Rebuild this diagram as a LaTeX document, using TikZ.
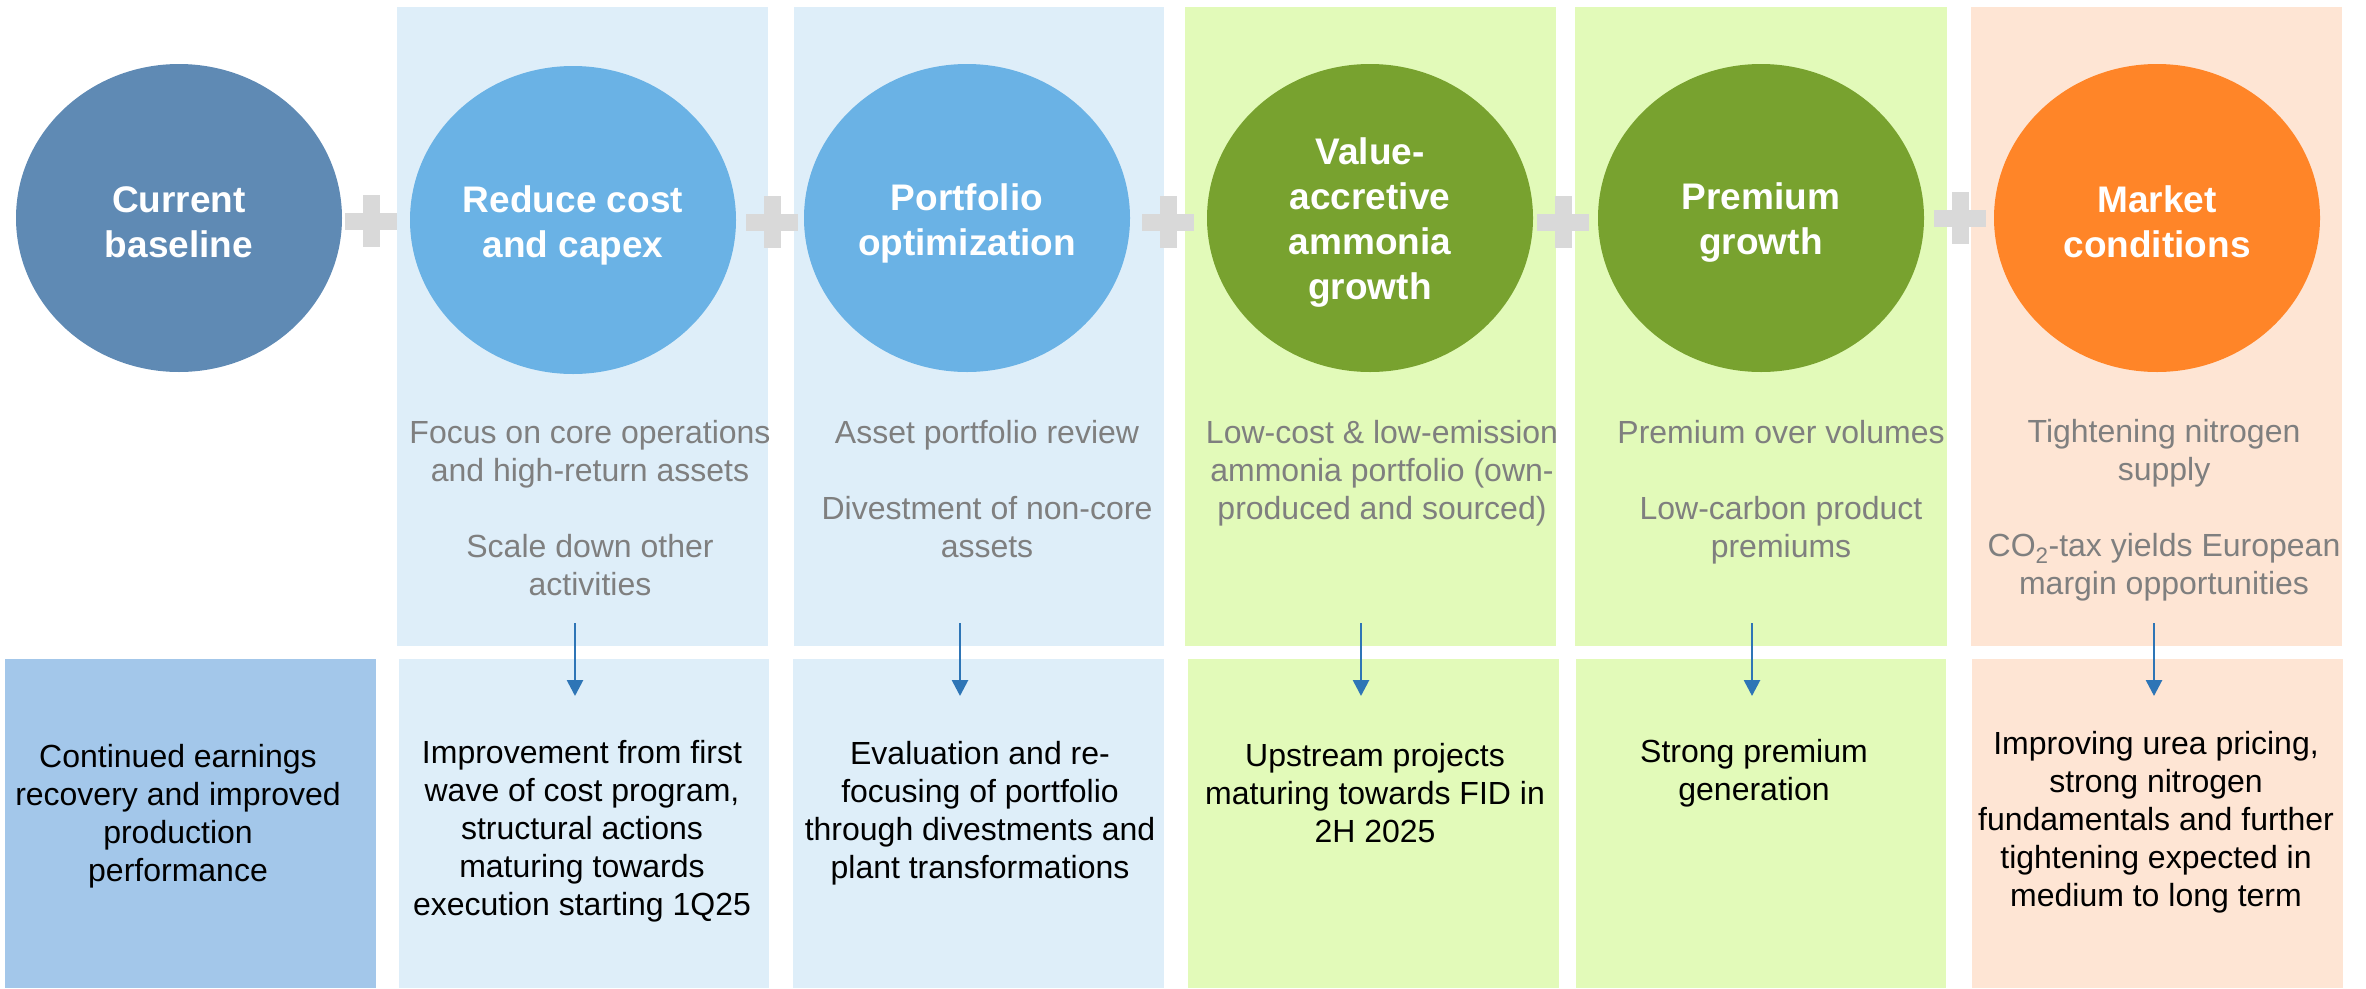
\documentclass[tikz,border=0pt]{standalone}
\usepackage{fontspec}
\setmainfont{Liberation Sans}
\usetikzlibrary{shapes.geometric,arrows.meta}
\definecolor{circA}{HTML}{5F8AB4}
\definecolor{circB}{HTML}{6AB2E5}
\definecolor{circC}{HTML}{78A22F}
\definecolor{circD}{HTML}{FF8528}
\definecolor{bgBlue}{HTML}{DEEEF9}
\definecolor{bgGreen}{HTML}{E2FAB9}
\definecolor{bgPeach}{HTML}{FEE5D4}
\definecolor{boxBlue}{HTML}{A3C7EA}
\definecolor{plusGray}{HTML}{D9D9D9}
\definecolor{arrowBlue}{HTML}{2E75B6}
\definecolor{textGray}{HTML}{7F7F7F}
\tikzset{
  bubble/.style={ellipse, minimum width=326pt, minimum height=308pt, inner sep=0pt},
  bubbletext/.style={inner sep=0pt, text=white, align=center,
    font=\fontsize{37}{45}\selectfont\bfseries},
  graytext/.style={anchor=north, inner sep=0pt, align=center, text=textGray,
    font=\fontsize{32}{38}\selectfont},
  blacktext/.style={anchor=north, inner sep=0pt, align=center, text=black,
    font=\fontsize{32}{38}\selectfont},
  flowarrow/.style={draw=arrowBlue, line width=2.7pt, -{Triangle[length=16pt,width=16pt]}},
  plusbar/.style={fill=plusGray}
}
\newcommand{\plussign}[2]{%
  \fill[plusbar] (#1-26,#2-8.5) rectangle (#1+26,#2+8.5);
  \fill[plusbar] (#1-8.5,#2-26) rectangle (#1+8.5,#2+26);}
\begin{document}
\begin{tikzpicture}[x=1pt,y=-1pt]
\useasboundingbox (0,0) rectangle (2366,988);
% column backgrounds
\fill[bgBlue]  (397,7) rectangle (768,646);
\fill[bgBlue]  (794,7) rectangle (1164,646);
\fill[bgGreen] (1185,7) rectangle (1556,646);
\fill[bgGreen] (1575,7) rectangle (1947,646);
\fill[bgPeach] (1971,7) rectangle (2342,646);
\fill[boxBlue] (5,659) rectangle (376,988);
\fill[bgBlue]  (399,659) rectangle (769,988);
\fill[bgBlue]  (793,659) rectangle (1164,988);
\fill[bgGreen] (1188,659) rectangle (1559,988);
\fill[bgGreen] (1576,659) rectangle (1946,988);
\fill[bgPeach] (1972,659) rectangle (2343,988);
% plus signs
\plussign{371}{221}
\plussign{772}{222}
\plussign{1168}{222}
\plussign{1563}{222}
\plussign{1960}{218}
% bubbles
\node[bubble, fill=circA] (c0) at (179,218) {};
\node[bubble, fill=circB] (c1) at (573,220) {};
\node[bubble, fill=circB] (c2) at (967,218) {};
\node[bubble, fill=circC] (c3) at (1370,218) {};
\node[bubble, fill=circC] (c4) at (1761,218) {};
\node[bubble, fill=circD] (c5) at (2157,218) {};
\node[bubbletext] (t0) at ([yshift=-4pt]c0.center) {Current\\baseline};
\node[bubbletext] (t1) at ([yshift=-5pt]c1.center) {Reduce cost\\and capex};
\node[bubbletext] (t2) at ([yshift=-5pt]c2.center) {Portfolio\\optimization};
\node[bubbletext] (t3) at ([yshift=-5pt]c3.center) {Value-\\accretive\\ammonia\\growth};
\node[bubbletext] (t4) at ([yshift=-5pt]c4.center) {Premium\\growth};
\node[bubbletext] (t5) at ([yshift=-4pt]c5.center) {Market\\conditions};
% gray descriptions
\node[graytext] (g1) at (590,417) {\strut Focus on core operations\\and high-return assets\\[38pt]Scale down other\\activities};
\node[graytext] (g2) at (987,417) {\strut Asset portfolio review\\[38pt]Divestment of non-core\\assets};
\node[graytext] (g3) at (1382,417) {\strut Low-cost \& low-emission\\ammonia portfolio (own-\\produced and sourced)};
\node[graytext] (g4) at (1781,417) {\strut Premium over volumes\\[38pt]Low-carbon product\\premiums};
\node[graytext] (g5) at (2164,416) {\strut Tightening nitrogen\\supply\\[38pt]CO\textsubscript{2}-tax yields European\\margin opportunities};
% bottom texts
\node[blacktext] (b0) at (178,741) {\strut Continued earnings\\recovery and improved\\production\\performance};
\node[blacktext] (b1) at (582,737) {\strut Improvement from first\\wave of cost program,\\structural actions\\maturing towards\\execution starting 1Q25};
\node[blacktext] (b2) at (980,738) {\strut Evaluation and re-\\focusing of portfolio\\through divestments and\\plant transformations};
\node[blacktext] (b3) at (1375,740) {\strut Upstream projects\\maturing towards FID in\\2H 2025};
\node[blacktext] (b4) at (1754,736) {\strut Strong premium\\generation};
\node[blacktext] (b5) at (2156,728) {\strut Improving urea pricing,\\strong nitrogen\\fundamentals and further\\tightening expected in\\medium to long term};
% arrows
\coordinate (s1) at (575,623);  \coordinate (e1) at (575,696);
\coordinate (s2) at (960,623);  \coordinate (e2) at (960,696);
\coordinate (s3) at (1361,623); \coordinate (e3) at (1361,696);
\coordinate (s4) at (1752,623); \coordinate (e4) at (1752,696);
\coordinate (s5) at (2154,623); \coordinate (e5) at (2154,696);
\draw[flowarrow] (s1) -- (e1);
\draw[flowarrow] (s2) -- (e2);
\draw[flowarrow] (s3) -- (e3);
\draw[flowarrow] (s4) -- (e4);
\draw[flowarrow] (s5) -- (e5);
\end{tikzpicture}
\end{document}
